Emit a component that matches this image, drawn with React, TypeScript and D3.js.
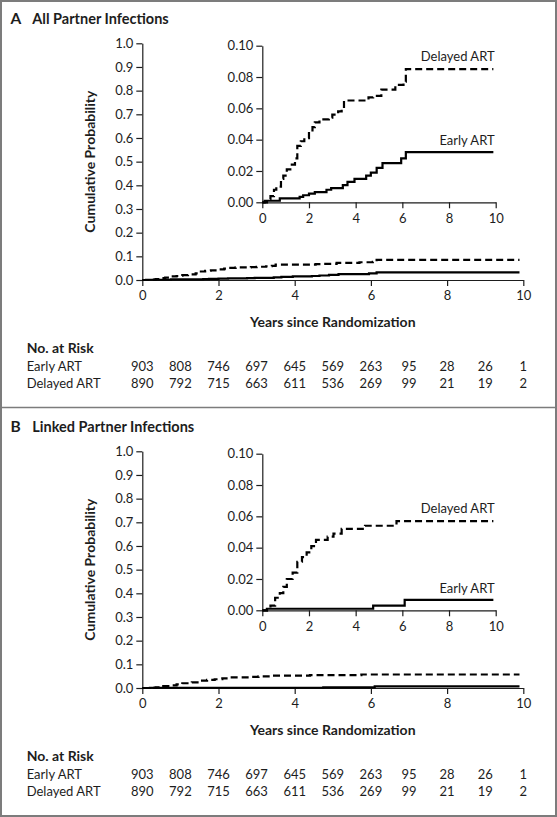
import React, { useEffect, useRef } from 'react';
import * as d3 from 'd3';

type Pt = [number, number];

// ---- data ----
const YEARS = [0, 1, 2, 3, 4, 5, 6, 7, 8, 9, 10];
const X_TICKS = [0, 2, 4, 6, 8, 10];
const MAIN_Y_TICKS = [0, 0.1, 0.2, 0.3, 0.4, 0.5, 0.6, 0.7, 0.8, 0.9, 1.0];
const INSET_Y_TICKS = [0, 0.02, 0.04, 0.06, 0.08, 0.1];
const RISK_GROUPS = ['Early ART', 'Delayed ART'];
const EARLY_RISK = [903, 808, 746, 697, 645, 569, 263, 95, 28, 26, 1];
const DELAYED_RISK = [890, 792, 715, 663, 611, 536, 269, 99, 21, 19, 2];

const EARLY_A: Pt[] = [
  [0, 0], [0.1, 0.001], [0.75, 0.0025], [1.6, 0.0035], [1.75, 0.0045], [2.0, 0.0055],
  [2.25, 0.0065], [2.75, 0.008], [2.95, 0.009], [3.45, 0.011], [3.65, 0.013], [3.95, 0.015],
  [4.45, 0.017], [4.65, 0.019], [4.9, 0.022], [5.15, 0.025], [5.95, 0.028], [6.15, 0.032], [9.9, 0.032],
];
const DELAYED_A: Pt[] = [
  [0, 0], [0.2, 0.002], [0.35, 0.004], [0.5, 0.008], [0.6, 0.01], [0.8, 0.015], [0.9, 0.017],
  [1.05, 0.021], [1.2, 0.024], [1.4, 0.028], [1.5, 0.036], [1.65, 0.039], [1.8, 0.041], [2.0, 0.045],
  [2.15, 0.048], [2.25, 0.051], [2.45, 0.053], [2.85, 0.054], [3.0, 0.056], [3.25, 0.058], [3.4, 0.06],
  [3.5, 0.065], [4.55, 0.067], [4.75, 0.068], [5.1, 0.072], [5.7, 0.075], [6.05, 0.077], [6.15, 0.085],
  [9.9, 0.085],
];
const EARLY_B: Pt[] = [
  [0, 0], [0.2, 0.001], [4.75, 0.003], [6.1, 0.0067], [9.9, 0.0067],
];
const DELAYED_B: Pt[] = [
  [0, 0], [0.2, 0.0008], [0.35, 0.003], [0.55, 0.008], [0.75, 0.011], [0.9, 0.015], [1.05, 0.02],
  [1.3, 0.024], [1.5, 0.031], [1.7, 0.034], [1.9, 0.037], [2.1, 0.041], [2.3, 0.045], [2.8, 0.047],
  [3.05, 0.049], [3.4, 0.052], [4.4, 0.054], [5.75, 0.057], [9.9, 0.057],
];

const PANELS = [
  { letter: 'A', title: 'All Partner Infections', early: EARLY_A, delayed: DELAYED_A },
  { letter: 'B', title: 'Linked Partner Infections', early: EARLY_B, delayed: DELAYED_B },
];

// ---- style ----
const FONT = 'Lato, "Open Sans", "Noto Sans", sans-serif';
const INK = '#1d1d1d';
const FRAME = '#7c7c7c';
const W = 557;
const H = 817;
const PANEL_H = 408;

function Axis({ axis, transform, size }: { axis: any; transform: string; size: number }) {
  const ref = useRef<SVGGElement>(null);
  useEffect(() => {
    const g = d3.select(ref.current as SVGGElement);
    g.call(axis);
    g.attr('font-family', FONT).attr('font-size', size);
    g.select('.domain').attr('stroke', INK).attr('stroke-width', 1.2);
    g.selectAll('.tick line').attr('stroke', INK).attr('stroke-width', 1.2);
    g.selectAll('.tick text').attr('fill', INK);
  });
  return <g ref={ref} transform={transform} />;
}

function Panel({ idx }: { idx: number }) {
  const p = PANELS[idx];
  const oy = idx * PANEL_H;

  // main plot scales
  const x = d3.scaleLinear().domain([0, 10]).range([142.3, 523.3]);
  const y = d3.scaleLinear().domain([0, 1]).range([280, 43.3]);
  // inset scales
  const xi = d3.scaleLinear().domain([0, 10]).range([262.3, 495.7]);
  const yi = d3.scaleLinear().domain([0, 0.1]).range([202.3, 45.7]);

  const mainLine = d3.line<Pt>().x((d) => x(d[0])).y((d) => y(d[1])).curve(d3.curveStepAfter);
  const insetLine = d3.line<Pt>().x((d) => xi(d[0])).y((d) => yi(d[1])).curve(d3.curveStepAfter);

  const lastE = p.early[p.early.length - 1];
  const lastD = p.delayed[p.delayed.length - 1];

  const solid = { fill: 'none', stroke: '#000', strokeWidth: 2.2 };
  const dashed = { fill: 'none', stroke: '#000', strokeWidth: 2.2, strokeDasharray: '7,4' };

  return (
    <g transform={`translate(0,${oy})`} fontFamily={FONT} fill={INK}>
      <text x={10.5} y={24} fontSize={15.5} fontWeight={700}>{p.letter}</text>
      <text x={32.3} y={24} fontSize={14.5} fontWeight={700}>{p.title}</text>

      {/* main axes */}
      <Axis
        axis={d3.axisLeft(y).tickValues(MAIN_Y_TICKS).tickFormat(d3.format('.1f')).tickSize(6).tickSizeOuter(0).tickPadding(3)}
        transform={`translate(${x(0)},0)`}
        size={13}
      />
      <Axis
        axis={d3.axisBottom(x).tickValues(X_TICKS).tickFormat(d3.format('d')).tickSize(6).tickSizeOuter(0).tickPadding(5)}
        transform={`translate(0,${y(0)})`}
        size={13}
      />
      <path d={mainLine(p.delayed) || ''} {...dashed} />
      <path d={mainLine(p.early) || ''} {...solid} />

      <text
        transform={`translate(95,${(y(0) + y(1)) / 2}) rotate(-90)`}
        textAnchor="middle"
        fontSize={14}
        fontWeight={700}
      >
        Cumulative Probability
      </text>
      <text x={(x(0) + x(10)) / 2} y={327} textAnchor="middle" fontSize={14} fontWeight={700}>
        Years since Randomization
      </text>

      {/* inset */}
      <Axis
        axis={d3.axisLeft(yi).tickValues(INSET_Y_TICKS).tickFormat(d3.format('.2f')).tickSize(6).tickSizeOuter(0).tickPadding(3)}
        transform={`translate(${xi(0)},0)`}
        size={13}
      />
      <Axis
        axis={d3.axisBottom(xi).tickValues(X_TICKS).tickFormat(d3.format('d')).tickSize(6).tickSizeOuter(0).tickPadding(5)}
        transform={`translate(0,${yi(0)})`}
        size={13}
      />
      <path d={insetLine(p.delayed) || ''} {...dashed} />
      <path d={insetLine(p.early) || ''} {...solid} />
      <text x={xi(10) - 1} y={yi(lastD[1]) - 8} textAnchor="end" fontSize={13}>Delayed ART</text>
      <text x={xi(10) - 1} y={yi(lastE[1]) - 7} textAnchor="end" fontSize={13}>Early ART</text>

      {/* risk table */}
      <text x={26.7} y={353} fontSize={14} fontWeight={700}>No. at Risk</text>
      {RISK_GROUPS.map((g, gi) => (
        <g key={g}>
          <text x={26.7} y={371 + gi * 17} fontSize={13}>{g}</text>
          {(gi === 0 ? EARLY_RISK : DELAYED_RISK).map((n, i) => (
            <text key={i} x={x(YEARS[i])} y={371 + gi * 17} textAnchor="middle" fontSize={13}>{n}</text>
          ))}
        </g>
      ))}
    </g>
  );
}

export default function App() {
  return (
    <svg
      width={W}
      height={H}
      viewBox={`0 0 ${W} ${H}`}
      style={{ position: 'absolute', left: 0, top: 0, background: '#fff' }}
    >
      <rect x={0} y={0} width={W} height={H} fill="#fff" />
      <Panel idx={0} />
      <Panel idx={1} />
      <rect x={1} y={1} width={W - 2} height={H - 2} fill="none" stroke={FRAME} strokeWidth={2} />
      <line x1={0} x2={W} y1={PANEL_H - 0.5} y2={PANEL_H - 0.5} stroke={FRAME} strokeWidth={1.6} />
    </svg>
  );
}
